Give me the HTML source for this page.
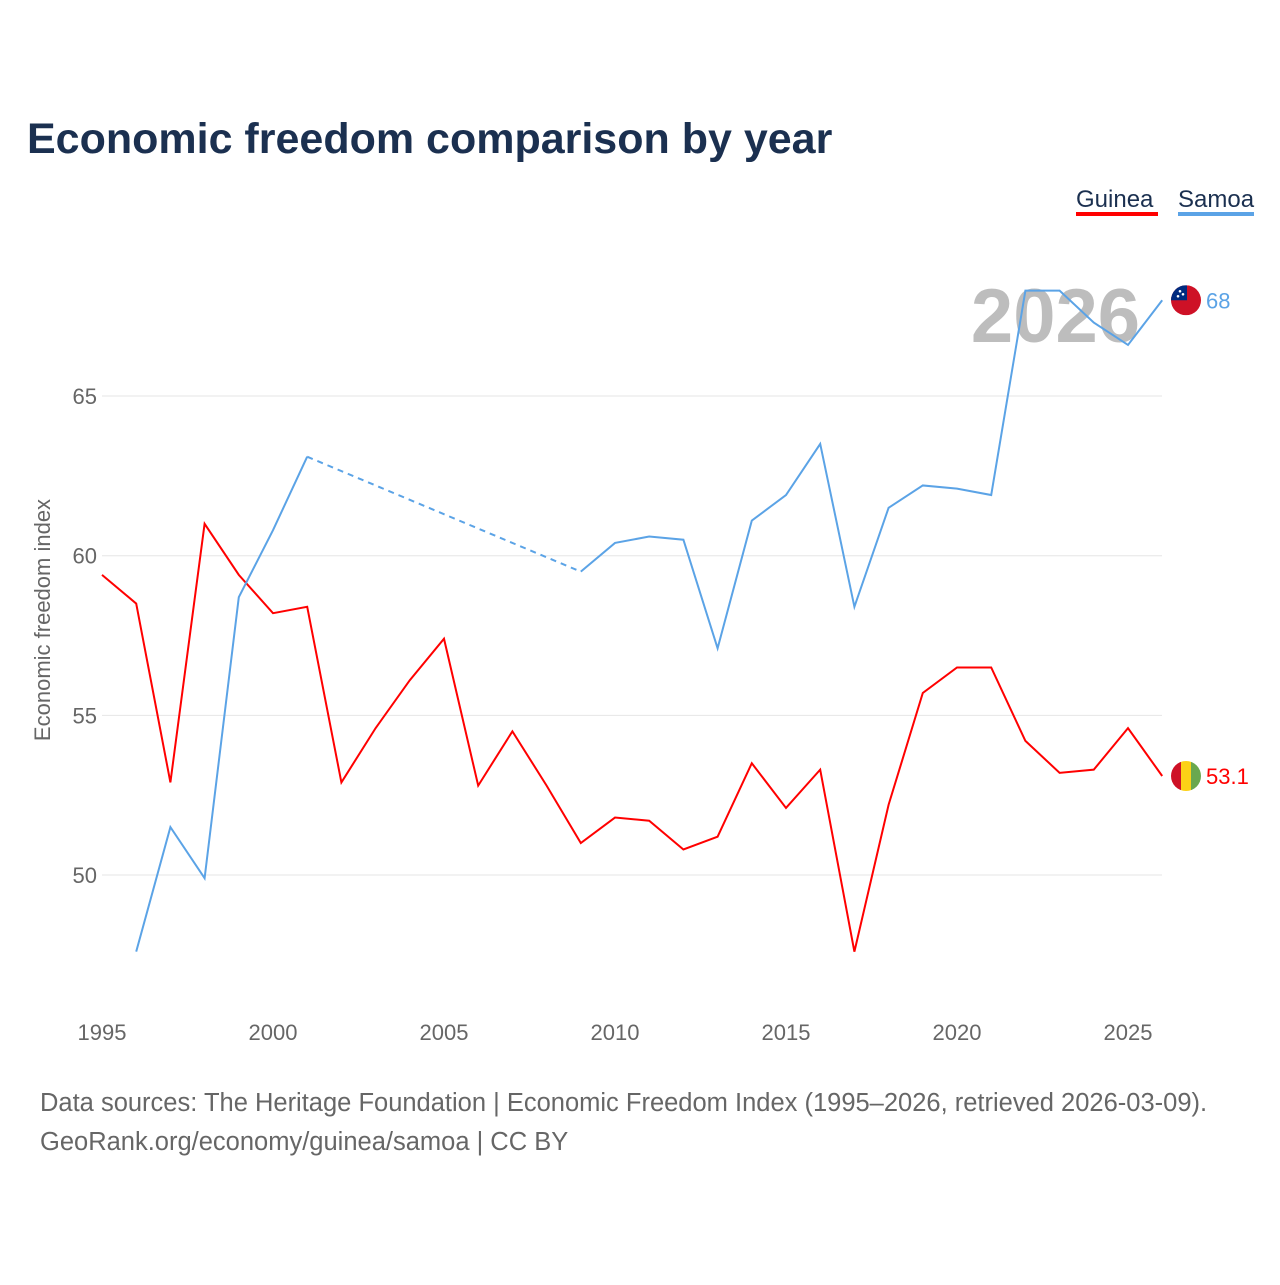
<!DOCTYPE html>
<html><head><meta charset="utf-8"><style>
body{margin:0;background:#fff;width:1280px;height:1280px;overflow:hidden;font-family:"Liberation Sans",sans-serif}
</style></head><body>
<svg width="1280" height="1280" style="font-family:'Liberation Sans',sans-serif">
<text x="27" y="153" font-size="43" font-weight="bold" fill="#1b3050">Economic freedom comparison by year</text>
<g>
<text x="1076" y="207" font-size="24" fill="#1b3050">Guinea</text>
<rect x="1076" y="212" width="82" height="4" fill="#ff0000"/>
<text x="1178" y="207" font-size="24" fill="#1b3050">Samoa</text>
<rect x="1178" y="212" width="76" height="4" fill="#5ba3e6"/>
</g>
<text x="1140" y="342" font-size="76" font-weight="bold" fill="#bdbdbd" text-anchor="end">2026</text>
<g id="grid"></g><g id="xt"></g><g id="lines"></g>
<text transform="translate(50,620) rotate(-90)" font-size="22" fill="#666" text-anchor="middle">Economic freedom index</text>
<text x="40" y="1111" font-size="25.5" fill="#666">Data sources: The Heritage Foundation | Economic Freedom Index (1995–2026, retrieved 2026-03-09).</text>
<text x="40" y="1150" font-size="25.5" fill="#666">GeoRank.org/economy/guinea/samoa | CC BY</text>
</svg>
<script>
const years=[1995,1996,1997,1998,1999,2000,2001,2002,2003,2004,2005,2006,2007,2008,2009,2010,2011,2012,2013,2014,2015,2016,2017,2018,2019,2020,2021,2022,2023,2024,2025,2026];
const guinea=[59.4,58.5,52.9,61.0,59.4,58.2,58.4,52.9,54.6,56.1,57.4,52.8,54.5,52.8,51.0,51.8,51.7,50.8,51.2,53.5,52.1,53.3,47.6,52.2,55.7,56.5,56.5,54.2,53.2,53.3,54.6,53.1];
const samoa=[null,47.6,51.5,49.9,58.7,60.8,63.1,null,null,null,null,null,null,null,59.5,60.4,60.6,60.5,57.1,61.1,61.9,63.5,58.4,61.5,62.2,62.1,61.9,68.3,68.3,67.3,66.6,68.0];
const yTicks=[50,55,60,65];
const xTicks=[1995,2000,2005,2010,2015,2020,2025];
const X=y=>102+(y-1995)*34.2, Y=v=>875-(v-50)*31.93;
const NS="http://www.w3.org/2000/svg";
function mk(p,t,a){const e=document.createElementNS(NS,t);for(const k in a)e.setAttribute(k,a[k]);document.getElementById(p).appendChild(e);return e;}
yTicks.forEach(v=>{
 const l=mk('grid','line',{x1:102,x2:1162,y1:Y(v),y2:Y(v),stroke:'#e6e6e6'});
 
 
 const t=mk('grid','text',{x:97,y:Y(v)+8,'font-size':22,fill:'#666','text-anchor':'end'});t.textContent=v;
 
 
});
xTicks.forEach(v=>{
 const t=mk('xt','text',{x:X(v),y:1040,'font-size':22,fill:'#666','text-anchor':'middle'});t.textContent=v;
 
 
});
function draw(vals,color,name){
 let segs=[],cur=[],last=null;
 vals.forEach((v,i)=>{
  if(v==null){if(cur.length){segs.push(cur);cur=[];}return;}
  if(last!=null&&last.i!==i-1){const d=mk('lines','path',{d:`M${X(years[last.i])},${Y(last.v)}L${X(years[i])},${Y(v)}`,stroke:color,'stroke-width':2,fill:'none','stroke-dasharray':'6,5'});
   
   }
  cur.push([X(years[i]),Y(v)]);last={i,v};
 });
 if(cur.length)segs.push(cur);
 segs.forEach(s=>{const p=mk('lines','path',{d:'M'+s.map(q=>q.join(',')).join('L'),stroke:color,'stroke-width':2,fill:'none'});
  
  });
}
draw(guinea,'#ff0000','guinea');
draw(samoa,'#5ba3e6','samoa');
const gy=Y(guinea[guinea.length-1]), sy=Y(samoa[samoa.length-1]);
const svg=document.querySelector('svg');
const g1=document.createElementNS(NS,'g');svg.appendChild(g1);


g1.innerHTML=`<clipPath id="cg"><circle cx="1186" cy="${gy}" r="15"/></clipPath><g clip-path="url(#cg)"><rect x="1171" y="${gy-15}" width="10" height="30" fill="#ce1126"/><rect x="1181" y="${gy-15}" width="10" height="30" fill="#fcd116"/><rect x="1191" y="${gy-15}" width="10" height="30" fill="#6aa84f"/></g><text x="1206" y="${gy+8}" font-size="22" fill="#ff0000">53.1</text>`;
const g2=document.createElementNS(NS,'g');svg.appendChild(g2);


g2.innerHTML=`<clipPath id="cs"><circle cx="1186" cy="${sy}" r="15"/></clipPath><g clip-path="url(#cs)"><rect x="1171" y="${sy-15}" width="30" height="30" fill="#ce1126"/><rect x="1171" y="${sy-15}" width="16" height="15" fill="#002b7f"/><circle cx="1180" cy="${sy-9}" r="1.3" fill="#fff"/><circle cx="1183" cy="${sy-6}" r="1.3" fill="#fff"/><circle cx="1178" cy="${sy-4}" r="1.3" fill="#fff"/></g><text x="1206" y="${sy+8}" font-size="22" fill="#5ba3e6">68</text>`;
</script>
</body></html>
